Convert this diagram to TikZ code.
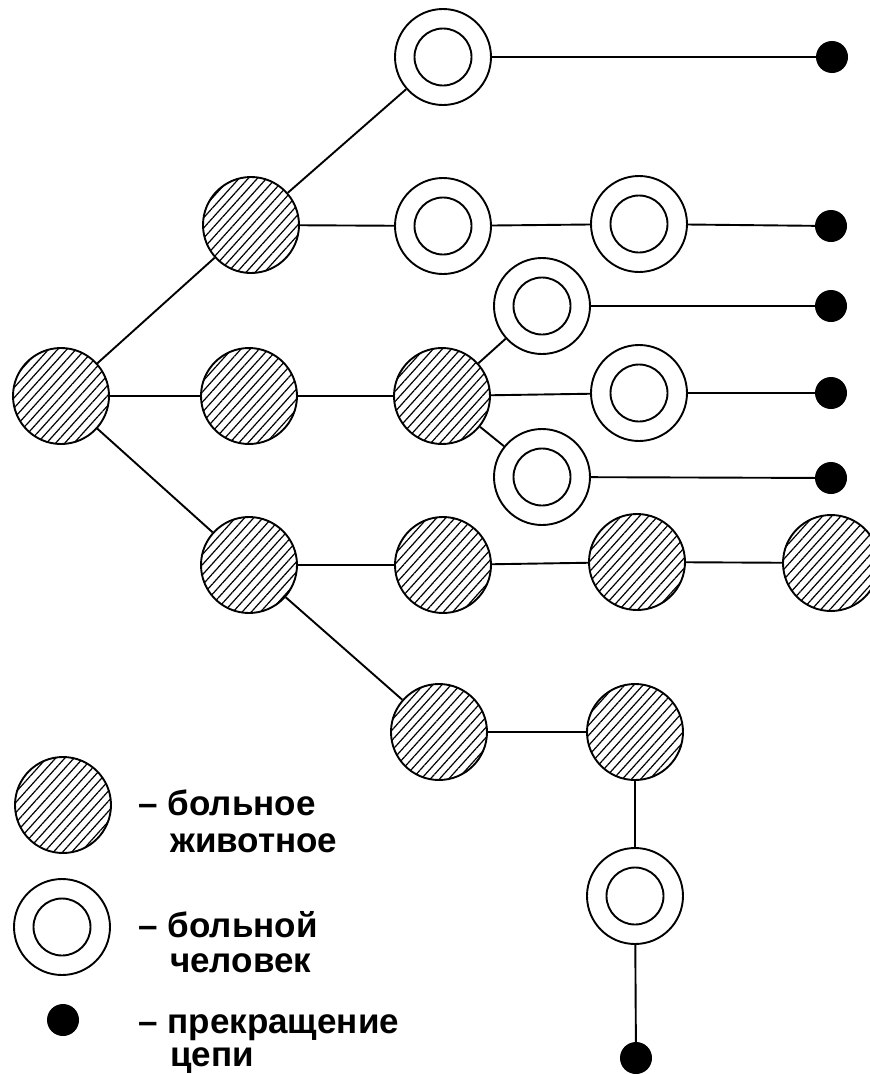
\documentclass[tikz,border=0pt]{standalone}
\usepackage{fontspec}
\setmainfont{Liberation Sans}
\usetikzlibrary{patterns.meta}
\begin{document}
\begin{tikzpicture}[x=1pt,y=-1pt,
  animal/.style={circle,draw,line width=1.9pt,minimum size=96pt,inner sep=0pt,
    pattern={Lines[angle=48,distance=6.8pt,line width=1.2pt]}},
  human/.style={circle,draw,fill=white,line width=1.9pt,minimum size=96pt,inner sep=0pt,
    path picture={\draw[line width=1.9pt] (path picture bounding box.center) circle (28.5pt);}},
  stopdot/.style={circle,fill=black,minimum size=32pt,inner sep=0pt},
  link/.style={line width=1.9pt},
  legend/.style={anchor=base west,inner sep=0pt,font=\fontsize{35}{40}\selectfont\bfseries}]
\fill[white] (0,0) rectangle (870,1074);
\useasboundingbox (0,0) rectangle (870,1074);
% nodes
\node[animal] (root) at (61,396) {};
\node[animal] (a1) at (251,225) {};
\node[animal] (a2) at (249,396) {};
\node[animal] (a3) at (249,565) {};
\node[human] (h1) at (443,57) {};
\node[stopdot] (d1) at (832,57) {};
\node[human] (h2) at (443,226) {};
\node[human] (h3) at (639,224) {};
\node[stopdot] (d2) at (831,226) {};
\node[animal] (b2) at (442,396) {};
\node[human] (h4) at (542,306) {};
\node[stopdot] (d3) at (831,306) {};
\node[human] (h5) at (639,393) {};
\node[stopdot] (d4) at (831,393) {};
\node[human] (h6) at (542,477) {};
\node[stopdot] (d5) at (831,478) {};
\node[animal] (c1) at (443,565) {};
\node[animal] (c2) at (637,562) {};
\node[animal] (c3) at (831,563) {};
\node[animal] (e1) at (439,732) {};
\node[animal] (e2) at (635,732) {};
\node[human] (h7) at (635,896) {};
\node[stopdot] (d6) at (636,1058) {};
% connectors
\draw[link] (root) -- (a1);
\draw[link] (root) -- (a2);
\draw[link] (root) -- (a3);
\draw[link] (a1) -- (h1);
\draw[link] (h1) -- (d1);
\draw[link] (a1) -- (h2);
\draw[link] (h2) -- (h3);
\draw[link] (h3) -- (d2);
\draw[link] (a2) -- (b2);
\draw[link] (b2) -- (h4);
\draw[link] (h4) -- (d3);
\draw[link] (b2) -- (h5);
\draw[link] (h5) -- (d4);
\draw[link] (b2) -- (h6);
\draw[link] (h6) -- (d5);
\draw[link] (a3) -- (c1);
\draw[link] (c1) -- (c2);
\draw[link] (c2) -- (c3);
\draw[link] (a3) -- (e1);
\draw[link] (e1) -- (e2);
\draw[link] (e2) -- (h7);
\draw[link] (h7) -- (d6);
% legend
\node[animal] (la) at (63,805) {};
\node[legend] (ta1) at (138,815) {–\hspace{10pt}больное};
\node[legend] (ta2) at (170,852) {животное};
\node[human] (lh) at (62,927) {};
\node[legend] (th1) at (138,937) {–\hspace{10pt}больной};
\node[legend] (th2) at (170,972) {человек};
\node[stopdot] (ld) at (63,1020) {};
\node[legend] (td1) at (138,1033) {–\hspace{10pt}прекращение};
\node[legend] (td2) at (170,1066) {цепи};
\end{tikzpicture}
\end{document}
